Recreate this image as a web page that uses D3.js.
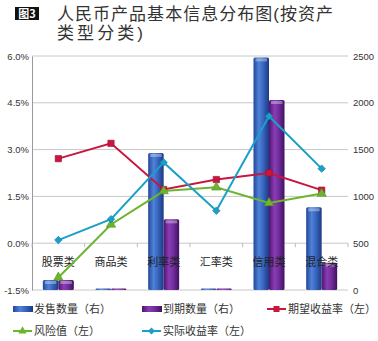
<!DOCTYPE html>
<html><head><meta charset="utf-8">
<script src="https://cdn.jsdelivr.net/npm/d3@7"></script>
<style>
body{margin:0;background:#fff;}
svg{display:block;font-family:"Noto Sans CJK SC","DejaVu Sans",sans-serif;}
</style></head>
<body><svg id="c" width="378" height="341"></svg>
<script>
const categories = ["股票类","商品类","利率类","汇率类","信用类","混合类"];
const issued   = [107, 15, 1465, 15, 2485, 884];   // 发售数量（右）
const matured  = [107, 15, 755, 15, 2030, 292];    // 到期数量（右）
const expected = [2.71, 3.20, 1.72, 2.04, 2.25, 1.70]; // 期望收益率（左）
const risk     = [-1.10, 0.60, 1.67, 1.79, 1.29, 1.59]; // 风险值（左）
const actual   = [0.10, 0.77, 2.59, 1.04, 4.07, 2.39]; // 实际收益率（左）
const leftTicks = [-1.5, 0, 1.5, 3.0, 4.5, 6.0];
const rightTicks = [0, 500, 1000, 1500, 2000, 2500];

const svg = d3.select("#c");
const L = 32, R = 348, T = 56, B = 290;
const x = d3.scaleBand().domain(categories).range([L, R]).paddingInner(0).paddingOuter(0);
const yL = d3.scaleLinear().domain([-1.5, 6]).range([B, T]);
const yR = d3.scaleLinear().domain([0, 2500]).range([B, T]);

// gradients
const defs = svg.append("defs");
function grad(id, stops){
  const g = defs.append("linearGradient").attr("id", id).attr("x1","0").attr("x2","1").attr("y1","0").attr("y2","0");
  stops.forEach(s => g.append("stop").attr("offset", s[0]).attr("stop-color", s[1]));
}
grad("gb", [[0,"#23479a"],[0.35,"#4f82d8"],[0.6,"#3a68c2"],[1,"#1c3a85"]]);
grad("gp", [[0,"#4d1670"],[0.35,"#8a3cb4"],[0.6,"#7330a0"],[1,"#421060"]]);

// title
svg.append("rect").attr("x",15).attr("y",7).attr("width",24).attr("height",13).attr("fill","#111");
svg.append("text").attr("x",27).attr("y",18).attr("text-anchor","middle").attr("fill","#fff")
  .attr("font-size",11).attr("font-weight","bold").text("图3");
const tfont = "'Liberation Sans','Noto Sans CJK SC',sans-serif";
svg.append("text").attr("x",57).attr("y",20).attr("font-size",17).attr("fill","#333").attr("font-family", tfont)
  .attr("textLength", 276).attr("lengthAdjust","spacing").text("人民币产品基本信息分布图(按资产");
svg.append("text").attr("x",57).attr("y",39).attr("font-size",17).attr("fill","#333").attr("font-family", tfont)
  .attr("textLength", 86).attr("lengthAdjust","spacing").text("类型分类)");

// grid
svg.append("g").selectAll("line").data(leftTicks).join("line")
  .attr("x1", L).attr("x2", R).attr("y1", d => yL(d)).attr("y2", d => yL(d))
  .attr("stroke", "#c8c8c8").attr("stroke-width", 1);

// left axis
const gL = svg.append("g").attr("transform", `translate(${L},0)`)
  .call(d3.axisLeft(yL).tickValues(leftTicks).tickFormat(d => d.toFixed(1) + "%").tickSize(0).tickPadding(3));
gL.select(".domain").attr("stroke", "#999");
gL.selectAll("text").attr("font-size", 9.5).attr("fill", "#333").attr("font-family","Liberation Sans, sans-serif");

// right axis
const gR = svg.append("g").attr("transform", `translate(${R},0)`)
  .call(d3.axisRight(yR).tickValues(rightTicks).tickFormat(d3.format("d")).tickSize(0).tickPadding(5));
gR.select(".domain").remove();
gR.selectAll("text").attr("font-size", 9.5).attr("fill", "#333").attr("font-family","Liberation Sans, sans-serif");

// bars
const bars = svg.append("g");
categories.forEach((c, i) => {
  const cx = x(c) + x.bandwidth()/2;
  const w = 15.5;
  [[issued[i], "url(#gb)", cx - w], [matured[i], "url(#gp)", cx]].forEach(([v, f, bx]) => {
    bars.append("rect").attr("x", bx).attr("y", yR(v)).attr("width", w)
      .attr("height", yR(0) - yR(v)).attr("fill", f).attr("rx", 1.5);
    bars.append("rect").attr("x", bx + 2).attr("y", yR(v) + 1).attr("width", w - 4)
      .attr("height", Math.min(3, yR(0) - yR(v) - 1)).attr("fill", "#fff").attr("opacity", 0.35);
  });
});

// category axis at 0%
const gX = svg.append("g").attr("transform", `translate(0,${yL(0)})`);
gX.selectAll("line").data(d3.range(categories.length + 1)).join("line")
  .attr("x1", i => L + i * x.bandwidth()).attr("x2", i => L + i * x.bandwidth())
  .attr("y1", 0).attr("y2", 4).attr("stroke", "#bbb");
gX.selectAll("text").data(categories).join("text")
  .attr("x", d => x(d) + x.bandwidth()/2).attr("y", 23).attr("text-anchor", "middle")
  .attr("font-size", 11).attr("fill", "#222").text(d => d);

// lines
const cxOf = i => x(categories[i]) + x.bandwidth()/2;
function series(vals, color, sym, size, rot){
  const line = d3.line().x((d,i) => cxOf(i)).y(d => yL(d));
  svg.append("path").datum(vals).attr("d", line).attr("fill","none").attr("stroke", color).attr("stroke-width", 2);
  svg.append("g").selectAll("path").data(vals).join("path")
    .attr("transform", (d,i) => `translate(${cxOf(i)},${yL(d)}) rotate(${rot||0})`)
    .attr("d", d3.symbol().type(sym).size(size)).attr("fill", color).attr("stroke", d3.color(color).darker(0.6)).attr("stroke-width",0.6);
}
series(expected, "#c8163e", d3.symbolSquare, 40);
series(risk, "#6cb52e", d3.symbolTriangle, 38);
series(actual, "#1aa0c8", d3.symbolSquare, 28, 45);

// legend
const lg = svg.append("g").attr("font-size", 11).attr("fill", "#333");
function legendBar(x0, y0, fill, label){
  lg.append("rect").attr("x", x0).attr("y", y0 - 3).attr("width", 20).attr("height", 6).attr("fill", fill);
  lg.append("text").attr("x", x0 + 21).attr("y", y0 + 4).text(label);
}
function legendLine(x0, y0, color, sym, size, rot, label){
  lg.append("line").attr("x1", x0).attr("x2", x0 + 19).attr("y1", y0).attr("y2", y0).attr("stroke", color).attr("stroke-width", 2);
  lg.append("path").attr("transform", `translate(${x0+9.5},${y0}) rotate(${rot})`).attr("d", d3.symbol().type(sym).size(size)).attr("fill", color);
  lg.append("text").attr("x", x0 + 21).attr("y", y0 + 4).text(label);
}
legendBar(13, 309, "url(#gb)", "发售数量（右）");
legendBar(142, 309, "url(#gp)", "到期数量（右）");
legendLine(267, 309, "#c8163e", d3.symbolSquare, 36, 0, "期望收益率（左）");
legendLine(13, 331, "#6cb52e", d3.symbolTriangle, 30, 0, "风险值（左）");
legendLine(142, 331, "#1aa0c8", d3.symbolSquare, 24, 45, "实际收益率（左）");
</script></body></html>
